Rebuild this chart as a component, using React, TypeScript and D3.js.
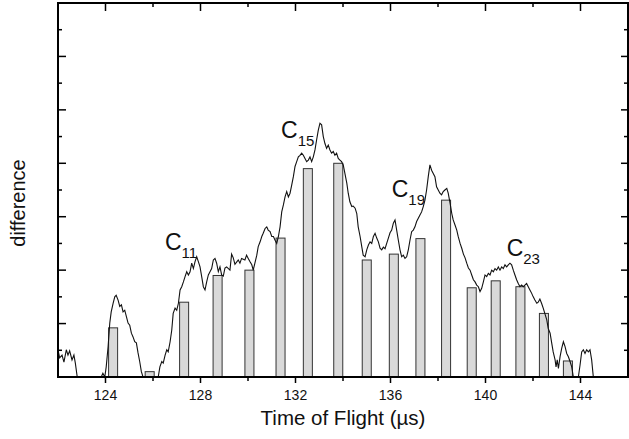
import React from "react";
import * as d3 from "d3";

// bar positions (time of flight, µs) and heights (arb. units)
const barTimes = [124.32, 125.86, 127.31, 128.72, 130.06, 131.37, 132.52, 133.8, 135.0, 136.14, 137.26, 138.34, 139.42, 140.43, 141.47, 142.46, 143.47];
const barValues = [0.92, 0.1, 1.4, 1.9, 2.0, 2.6, 3.9, 4.0, 2.19, 2.3, 2.59, 3.31, 1.67, 1.8, 1.69, 1.19, 0.3];

// measured difference trace: [time, value]
const trace: [number, number][] = [
  [122.0, 0.51], [122.07, 0.36], [122.17, 0.41], [122.25, 0.28], [122.35, 0.51], [122.42, 0.41],
  [122.49, 0.49], [122.59, 0.32], [122.67, 0.41], [122.73, 0.26], [122.81, 0], [123.82, 0],
  [123.89, 0.07], [123.97, 0], [124.03, 0.19], [124.11, 0.57], [124.18, 1.01], [124.24, 1.22],
  [124.32, 1.38], [124.39, 1.5], [124.45, 1.53], [124.53, 1.44], [124.6, 1.32], [124.67, 1.35],
  [124.74, 1.22], [124.81, 1.25], [124.88, 1.13], [124.95, 1.01], [125.02, 0.97], [125.09, 0.82],
  [125.16, 0.75], [125.23, 0.66], [125.3, 0.64], [125.37, 0.45], [125.44, 0.29], [125.51, 0.1],
  [125.58, 0], [126.22, 0], [126.29, 0.19], [126.37, 0.29], [126.43, 0.26], [126.51, 0.41],
  [126.58, 0.51], [126.64, 0.47], [126.72, 0.66], [126.79, 0.88], [126.85, 1.19], [126.93, 1.29],
  [127.0, 1.25], [127.07, 1.38], [127.14, 1.63], [127.21, 1.69], [127.28, 1.78], [127.35, 1.88],
  [127.42, 1.97], [127.49, 1.91], [127.56, 1.97], [127.63, 2.13], [127.7, 2.03], [127.77, 2.16],
  [127.84, 2.25], [127.91, 2.16], [127.98, 2.06], [128.05, 1.88], [128.12, 1.69], [128.19, 1.63],
  [128.26, 1.78], [128.33, 1.91], [128.4, 1.97], [128.47, 2.03], [128.54, 2.19], [128.61, 2.22],
  [128.68, 2.13], [128.75, 1.97], [128.82, 2.06], [128.89, 1.91], [128.96, 1.89], [129.03, 2.04],
  [129.1, 2.06], [129.24, 2.0], [129.31, 2.3], [129.38, 2.23], [129.45, 2.11], [129.52, 2.15],
  [129.59, 2.19], [129.66, 2.13], [129.73, 2.22], [129.87, 2.19], [129.94, 2.28], [130.01, 2.22],
  [130.08, 2.16], [130.16, 2.1], [130.22, 2.0], [130.29, 2.13], [130.37, 2.28], [130.43, 2.44],
  [130.51, 2.53], [130.58, 2.63], [130.64, 2.69], [130.72, 2.78], [130.79, 2.81], [130.85, 2.75],
  [130.93, 2.72], [131.0, 2.63], [131.07, 2.63], [131.14, 2.56], [131.21, 2.5], [131.28, 2.63],
  [131.35, 2.81], [131.42, 3.09], [131.49, 3.22], [131.56, 3.37], [131.63, 3.47], [131.7, 3.37],
  [131.77, 3.44], [131.84, 3.59], [131.91, 3.75], [131.98, 3.94], [132.05, 4.03], [132.12, 4.12],
  [132.19, 4.15], [132.26, 4.19], [132.33, 4.15], [132.4, 4.09], [132.47, 4.03], [132.54, 4.06],
  [132.61, 4.12], [132.68, 4.03], [132.75, 4.12], [132.82, 4.25], [132.89, 4.44], [132.96, 4.62],
  [133.03, 4.75], [133.1, 4.72], [133.17, 4.5], [133.24, 4.37], [133.31, 4.28], [133.38, 4.34],
  [133.45, 4.25], [133.52, 4.19], [133.59, 4.22], [133.66, 4.15], [133.73, 4.19], [133.8, 4.09],
  [133.87, 4.06], [133.94, 4.03], [134.01, 3.97], [134.08, 3.81], [134.16, 3.63], [134.22, 3.44],
  [134.29, 3.28], [134.37, 3.19], [134.43, 3.2], [134.51, 3.16], [134.58, 3.06], [134.64, 2.81],
  [134.72, 2.63], [134.79, 2.44], [134.85, 2.28], [134.93, 2.25], [135.0, 2.38], [135.07, 2.47],
  [135.14, 2.53], [135.21, 2.5], [135.28, 2.63], [135.35, 2.69], [135.42, 2.6], [135.49, 2.53],
  [135.56, 2.41], [135.63, 2.38], [135.7, 2.43], [135.77, 2.4], [135.84, 2.5], [135.91, 2.6],
  [135.98, 2.7], [136.05, 2.75], [136.12, 2.88], [136.19, 2.94], [136.26, 2.75], [136.33, 2.56],
  [136.4, 2.38], [136.47, 2.25], [136.54, 2.28], [136.61, 2.22], [136.68, 2.25], [136.75, 2.38],
  [136.82, 2.56], [136.89, 2.72], [136.96, 2.75], [137.03, 2.81], [137.1, 2.91], [137.17, 2.97],
  [137.24, 3.03], [137.31, 3.09], [137.38, 3.19], [137.45, 3.31], [137.52, 3.5], [137.59, 3.75],
  [137.66, 3.97], [137.73, 3.87], [137.8, 3.81], [137.87, 3.75], [137.94, 3.56], [138.01, 3.5],
  [138.08, 3.44], [138.15, 3.41], [138.22, 3.47], [138.29, 3.5], [138.37, 3.53], [138.43, 3.44],
  [138.51, 3.25], [138.58, 3.06], [138.64, 2.94], [138.72, 2.84], [138.79, 2.75], [138.85, 2.63],
  [138.93, 2.5], [139.0, 2.41], [139.07, 2.3], [139.14, 2.23], [139.21, 2.13], [139.28, 2.04],
  [139.35, 2.0], [139.42, 1.91], [139.49, 1.82], [139.56, 1.78], [139.63, 1.72], [139.7, 1.69],
  [139.77, 1.6], [139.84, 1.66], [139.91, 1.78], [139.98, 1.91], [140.05, 1.88], [140.12, 1.94],
  [140.19, 1.91], [140.26, 2.0], [140.33, 1.97], [140.4, 2.03], [140.47, 2.0], [140.54, 2.06],
  [140.61, 2.0], [140.68, 2.06], [140.75, 2.03], [140.82, 2.1], [140.89, 2.06], [140.96, 2.1],
  [141.03, 2.13], [141.1, 2.1], [141.17, 2.0], [141.24, 1.91], [141.31, 1.82], [141.38, 1.75],
  [141.45, 1.69], [141.52, 1.72], [141.59, 1.69], [141.66, 1.72], [141.73, 1.75], [141.8, 1.69],
  [141.87, 1.63], [141.94, 1.57], [142.01, 1.5], [142.08, 1.44], [142.16, 1.38], [142.22, 1.4],
  [142.29, 1.46], [142.36, 1.38], [142.43, 1.29], [142.58, 1.07], [142.64, 0.91], [142.72, 0.82],
  [142.79, 0.63], [142.85, 0.47], [142.93, 0.32], [142.97, 0.19], [143.02, 0.32], [143.07, 0.16],
  [143.14, 0.38], [143.21, 0.54], [143.28, 0.66], [143.35, 0.57], [143.42, 0.44], [143.49, 0.38],
  [143.56, 0.29], [143.63, 0.19], [143.7, 0], [143.91, 0], [143.98, 0.22], [144.05, 0.47],
  [144.12, 0.51], [144.19, 0.44], [144.26, 0.51], [144.33, 0.47], [144.4, 0.51], [144.47, 0.32],
  [144.54, 0],
];

// cluster labels: C_n placed at [time, value]
const peakNames = ["11", "15", "19", "23"];
const peakTimes = [126.5, 131.39, 136.05, 140.89];
const peakValues = [2.38, 4.47, 3.37, 2.26];

const xMajorTicks = [124, 128, 132, 136, 140, 144];
const xMinorTicks = [126, 130, 134, 138, 142];
const yMajorTicks = [1, 2, 3, 4, 5, 6];
const yMinorTicks = [0.5, 1.5, 2.5, 3.5, 4.5, 5.5, 6.5];

const W = 629;
const H = 439;
const margin = { left: 58, right: 1, top: 3, bottom: 62 };

const App = () => {
  const x = d3.scaleLinear().domain([122, 146]).range([margin.left, W - margin.right]);
  const y = d3.scaleLinear().domain([0, 7]).range([H - margin.bottom, margin.top]);
  const x0 = x.range()[0];
  const x1 = x.range()[1];
  const yb = y.range()[0];
  const yt = y.range()[1];

  const line = d3
    .line<[number, number]>()
    .x((d) => x(d[0]))
    .y((d) => y(d[1]));

  const barHalf = 0.19; // half bar width in µs
  const font = "'Liberation Sans', Arial, sans-serif";

  return (
    <div style={{ position: "fixed", left: 0, top: 0 }}>
      <svg width={W} height={H} style={{ display: "block" }} fontFamily={font}>
        <rect width={W} height={H} fill="#fff" />

        {/* bars */}
        {barTimes.map((t, i) => (
          <rect
            key={i}
            x={x(t - barHalf)}
            y={y(barValues[i])}
            width={x(t + barHalf) - x(t - barHalf)}
            height={yb - y(barValues[i])}
            fill="#d9d9d9"
            stroke="#333"
            strokeWidth={1}
          />
        ))}

        {/* trace */}
        <path d={line(trace) || ""} fill="none" stroke="#111" strokeWidth={1.1} />

        {/* ticks */}
        <g stroke="#000" strokeWidth={1.5}>
          {xMajorTicks.map((t) => (
            <g key={"xM" + t}>
              <line x1={x(t)} x2={x(t)} y1={yb} y2={yb + 6} />
              <line x1={x(t)} x2={x(t)} y1={yt} y2={yt + 8} />
            </g>
          ))}
          {xMinorTicks.map((t) => (
            <g key={"xm" + t}>
              <line x1={x(t)} x2={x(t)} y1={yb} y2={yb + 4} />
              <line x1={x(t)} x2={x(t)} y1={yt} y2={yt + 4} />
            </g>
          ))}
          {yMajorTicks.map((v) => (
            <g key={"yM" + v}>
              <line x1={x0} x2={x0 + 8} y1={y(v)} y2={y(v)} />
              <line x1={x1} x2={x1 - 7} y1={y(v)} y2={y(v)} />
            </g>
          ))}
          {yMinorTicks.map((v) => (
            <g key={"ym" + v}>
              <line x1={x0} x2={x0 + 4} y1={y(v)} y2={y(v)} />
              <line x1={x1} x2={x1 - 4} y1={y(v)} y2={y(v)} />
            </g>
          ))}
        </g>

        {/* frame */}
        <rect x={x0} y={yt} width={x1 - x0} height={yb - yt} fill="none" stroke="#000" strokeWidth={2} />

        {/* tick labels */}
        {xMajorTicks.map((t) => (
          <text key={"xl" + t} x={x(t)} y={400} textAnchor="middle" fontSize={14} fill="#111">
            {t}
          </text>
        ))}

        {/* peak labels */}
        {peakNames.map((n, i) => (
          <text key={n} x={x(peakTimes[i])} y={y(peakValues[i])} fontSize={23} fill="#111">
            C
            <tspan fontSize={15} dy={8}>
              {n}
            </tspan>
          </text>
        ))}

        {/* axis titles */}
        <text x={(x0 + x1) / 2} y={425} textAnchor="middle" fontSize={20.5} fill="#111">
          Time of Flight (µs)
        </text>
        <text
          transform={`translate(25, ${(yb + yt) / 2 + 13}) rotate(-90)`}
          textAnchor="middle"
          fontSize={20}
          fill="#111"
        >
          difference
        </text>
      </svg>
    </div>
  );
};

export default App;
